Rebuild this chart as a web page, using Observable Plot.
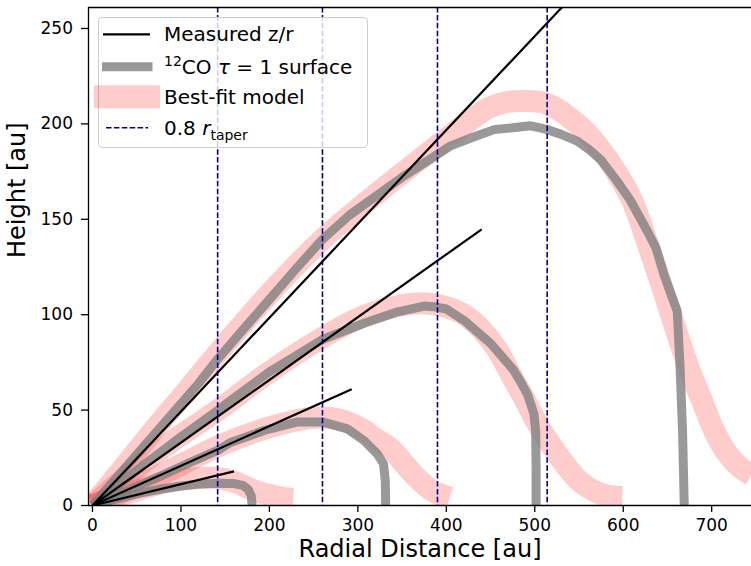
<!DOCTYPE html>
<html><head><meta charset="utf-8">
<script src="https://cdn.jsdelivr.net/npm/d3@7"></script>
<script src="https://cdn.jsdelivr.net/npm/@observablehq/plot@0.6"></script>
<style>
body{margin:0;background:#fff;}
#wrap{position:relative;width:751px;height:566px;font-family:"DejaVu Sans",sans-serif;overflow:hidden;}
#legend{position:absolute;left:98px;top:17px;width:270px;height:131px;box-sizing:border-box;border:1px solid #cccccc;border-radius:4px;background:rgba(255,255,255,0.8);}
#legsvg{position:absolute;left:0;top:0;pointer-events:none;}
.lt{position:absolute;left:164px;font-size:20px;line-height:20px;color:#000;white-space:nowrap;}
.lt sup{font-size:14px;vertical-align:0;position:relative;top:-8px;}
.lt sub{font-size:14px;vertical-align:0;position:relative;top:5px;}
</style></head>
<body><div id="wrap"></div>
<script>
// ---- data ----
const xTicks = [0, 100, 200, 300, 400, 500, 600, 700];
const yTicks = [0, 50, 100, 150, 200, 250];
const taperRadii = [141.5, 260, 390, 514];           // 0.8 r_taper [au]
const zrSlopes = [0.492, 0.329, 0.208, 0.112];        // measured z/r
const zrRmax   = [545, 440, 293, 160];                // extent of each z/r line [au]

// 12CO tau = 1 surfaces [r, z] in au
const surface1 = [[0,0],[30,16],[60,32],[90,48],[120,64],[142,77],[170,92],[200,108],[230,124],[259,139],[290,152],[320,162],[350,172],[380,181],[405,188.5],[430,193],[454,197],[475,198],[495,199],[505,198],[514,197],[530,194.5],[548,191],[563,186],[575,181],[593,170],[608,160],[627,144],[637,135],[646,121],[657,107],[661,102],[664,75],[667,40],[669,0]];
const surface2 = [[0,0],[30,11],[60,22],[100,36],[142,50],[156,55],[200,70],[230,78.5],[260,87],[307,95.5],[345,101.5],[375,104.5],[389,104],[400,103],[420,97],[435,91],[450,85],[463,78],[476,71],[485,64],[492,58],[499,48],[501,39],[501.5,20],[501.5,0]];
const surface3 = [[0,0],[30,6],[70,14],[110,22.5],[142,29],[156,33],[194,39.3],[231,43.7],[261,43.7],[288,40.2],[307,34],[322,27],[329,21.8],[331,13],[331.5,0]];
const surface4 = [[0,0],[20,2.5],[40,5],[60,7],[80,8.8],[100,10.2],[120,11.2],[140,11.7],[160,11.5],[170,10.5],[176,8.5],[179.5,5],[180.5,0]];

// best-fit model surfaces [r, z] in au
const model1 = [[0,0],[30,17],[70,40],[110,62],[142,80],[200,111],[259,139],[320,163],[380,185],[405,194],[430,203],[451,209],[470,211.5],[491,212],[514,210.5],[548,200],[574,187],[597,171],[610,160],[630,134],[645,113],[661,90],[675,71],[689,55],[704,38],[718,27],[732,20],[745,16]];
const model2 = [[0,0],[30,12],[70,27],[110,40],[142,50],[200,70],[260,88],[300,98],[340,104],[370,106],[400,104],[420,100],[440,92],[457,82],[476,66],[487,57],[497,48],[508,39],[520,30.5],[535,21],[550,13],[570,7],[585,5],[599,4.5]];
const model3 = [[0,0],[40,8],[90,19],[142,31],[200,41],[250,46],[280,45],[305,40],[320,35],[337,30],[352,22],[369,13.5],[385,7.5],[404,4]];
const model4 = [[0,0],[25,4],[50,8],[85,12.5],[115,14.3],[141,14.4],[160,12.5],[182,8],[200,5.5],[216,4],[227,3.5]];

// ---- build tables ----
const toRows = (arr, id) => arr.map(([r, z]) => ({r, z, id}));
const surfaces = [surface1, surface2, surface3, surface4].flatMap((s, i) => toRows(s, i));
const models = [model1, model2, model3, model4].flatMap((s, i) => toRows(s, i));
const xDomain = [-4.5, 745], yDomain = [0, 261];

const chart = Plot.plot({
  width: 751, height: 566,
  marginLeft: 88, marginRight: 0, marginTop: 7, marginBottom: 61,
  x: {domain: xDomain},
  y: {domain: yDomain},
  style: {fontFamily: "DejaVu Sans", fontSize: "17px", color: "black", background: "white", overflow: "visible"},
  marks: [
    Plot.line(models, {x: "r", y: "z", z: "id", curve: "catmull-rom", stroke: "red", strokeOpacity: 0.2, strokeWidth: 22, strokeLinejoin: "round", strokeLinecap: "butt", clip: true}),
    Plot.line(surfaces, {x: "r", y: "z", z: "id", stroke: "gray", strokeOpacity: 0.8, strokeWidth: 9, strokeLinejoin: "round", strokeLinecap: "butt", clip: true}),
    Plot.link(zrSlopes, {x1: () => 0, y1: () => 0, x2: (d, i) => zrRmax[i], y2: (d, i) => d * zrRmax[i], stroke: "black", strokeWidth: 2.2, clip: true}),
    Plot.ruleX(taperRadii, {stroke: "darkblue", strokeWidth: 1.6, strokeDasharray: "5.5,2.4"}),
    Plot.ruleY([yDomain[0]], {stroke: "black", strokeWidth: 1.3}),
    Plot.ruleY([yDomain[1]], {stroke: "black", strokeWidth: 1.3}),
    Plot.ruleX([xDomain[0]], {stroke: "black", strokeWidth: 1.3}),
    Plot.axisX(xTicks, {tickSize: 7, tickPadding: 6.5, fontSize: 17, strokeWidth: 1.3, label: null}),
    Plot.axisY(yTicks, {tickSize: 7, tickPadding: 8.5, fontSize: 17, strokeWidth: 1.3, label: null}),
    Plot.text(["Radial Distance [au]"], {text: d => d, frameAnchor: "bottom", dy: 51.5, fontSize: 24}),
    Plot.text(["Height [au]"], {text: d => d, frameAnchor: "left", rotate: -90, dx: -71.5, dy: 1.5, fontSize: 24})
  ]
});
const wrap = document.getElementById("wrap");
wrap.appendChild(chart);

// ---- legend ----
const legend = document.createElement("div");
legend.id = "legend";
wrap.appendChild(legend);
const NS = "http://www.w3.org/2000/svg";
const lsvg = document.createElementNS(NS, "svg");
lsvg.setAttribute("id", "legsvg");
lsvg.setAttribute("width", 751); lsvg.setAttribute("height", 566);
const legendItems = [
  {html: "Measured z/r", y: 34.3, x1: 103, x2: 150, stroke: "black", w: 2.2, op: 1, dash: null},
  {html: "<sup>12</sup>CO <i>τ</i> = 1 surface", y: 66.7, x1: 102, x2: 152.5, stroke: "gray", w: 9, op: 0.8, dash: null},
  {html: "Best-fit model", y: 96.7, x1: 94, x2: 160, stroke: "red", w: 23, op: 0.2, dash: null},
  {html: "0.8 <i>r</i><sub>taper</sub>", y: 127.7, x1: 106, x2: 148, stroke: "darkblue", w: 1.6, op: 1, dash: "5.5,2.4"}
];
for (const it of legendItems) {
  const l = document.createElementNS(NS, "line");
  l.setAttribute("x1", it.x1); l.setAttribute("x2", it.x2);
  l.setAttribute("y1", it.y); l.setAttribute("y2", it.y);
  l.setAttribute("stroke", it.stroke); l.setAttribute("stroke-width", it.w);
  l.setAttribute("stroke-opacity", it.op);
  if (it.dash) l.setAttribute("stroke-dasharray", it.dash);
  lsvg.appendChild(l);
  const t = document.createElement("div");
  t.className = "lt";
  t.innerHTML = it.html;
  t.style.top = (it.y - 10) + "px";
  wrap.appendChild(t);
}
wrap.appendChild(lsvg);
</script>
</body></html>
